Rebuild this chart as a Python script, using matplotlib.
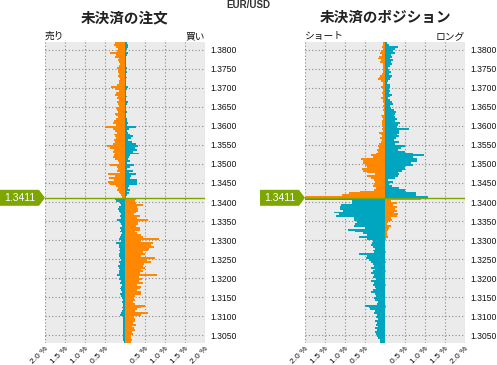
import numpy as np
import matplotlib
matplotlib.use('Agg')
import matplotlib.pyplot as plt
from matplotlib.patches import Polygon
from matplotlib import transforms

plt.rcParams['font.family'] = ['Noto Sans CJK JP', 'DejaVu Sans']

# price bins (bottom edge), top -> bottom, 0.0005 step
levels = np.round(np.linspace(1.3815, 1.3030, 158), 4)
step = 0.0005
price = 1.3411
split = 1.3410
price_ticks = [1.3050, 1.3100, 1.3150, 1.3200, 1.3250, 1.3300, 1.3350, 1.3400,
               1.3450, 1.3500, 1.3550, 1.3600, 1.3650, 1.3700, 1.3750, 1.3800]
pct_ticks = [-2.0, -1.5, -1.0, -0.5, 0.5, 1.0, 1.5, 2.0]

# open orders (%), left side / right side, listed top -> bottom
orders_left = [
    0.25, 0.28, 0.22, 0.18, 0.20, 0.37, 0.22, 0.24, 0.15, 0.18,
    0.16, 0.12, 0.15, 0.20, 0.18, 0.17, 0.14, 0.18, 0.15, 0.13,
    0.16, 0.14, 0.19, 0.34, 0.25, 0.15, 0.22, 0.24, 0.18, 0.20,
    0.16, 0.21, 0.18, 0.14, 0.22, 0.20, 0.18, 0.25, 0.23, 0.18,
    0.22, 0.27, 0.30, 0.22, 0.49, 0.30, 0.25, 0.20, 0.27, 0.25,
    0.22, 0.28, 0.25, 0.30, 0.44, 0.38, 0.28, 0.30, 0.25, 0.28,
    0.29, 0.24, 0.18, 0.15, 0.37, 0.20, 0.18, 0.20, 0.12, 0.42,
    0.25, 0.40, 0.28, 0.42, 0.38, 0.22, 0.18, 0.20, 0.14, 0.12,
    0.10, 0.08,
    0.24, 0.22, 0.12, 0.10, 0.14, 0.18, 0.16, 0.12,
    0.10, 0.12, 0.10, 0.19, 0.12, 0.10, 0.08, 0.12, 0.10, 0.12,
    0.08, 0.10, 0.12, 0.14, 0.10, 0.22, 0.16, 0.14, 0.12, 0.15,
    0.12, 0.14, 0.14, 0.12, 0.10, 0.14, 0.12, 0.18, 0.15, 0.12,
    0.14, 0.16, 0.20, 0.12, 0.14, 0.10, 0.12, 0.08, 0.10, 0.12,
    0.10, 0.08, 0.12, 0.10, 0.08, 0.06, 0.08, 0.06, 0.06, 0.08,
    0.06, 0.08, 0.10, 0.12, 0.06, 0.05, 0.04, 0.05, 0.04, 0.05,
    0.04, 0.05, 0.04, 0.05, 0.04, 0.04, 0.04, 0.02,
]
orders_right = [
    0.05, 0.08, 0.07, 0.04, 0.03, 0.08, 0.05, 0.03, 0.02, 0.03,
    0.02, 0.02, 0.03, 0.04, 0.03, 0.05, 0.03, 0.02, 0.04, 0.03,
    0.02, 0.03, 0.03, 0.08, 0.05, 0.03, 0.02, 0.03, 0.04, 0.02,
    0.03, 0.07, 0.04, 0.03, 0.02, 0.03, 0.04, 0.03, 0.02, 0.03,
    0.04, 0.06, 0.08, 0.05, 0.27, 0.10, 0.04, 0.08, 0.12, 0.19,
    0.14, 0.08, 0.18, 0.28, 0.32, 0.25, 0.30, 0.20, 0.36, 0.12,
    0.10, 0.08, 0.12, 0.05, 0.22, 0.12, 0.05, 0.20, 0.10, 0.28,
    0.16, 0.12, 0.31, 0.31, 0.31, 0.10, 0.08, 0.12, 0.05, 0.10,
    0.05, 0.03,
    0.27, 0.26, 0.28, 0.46, 0.30, 0.33, 0.32, 0.28,
    0.22, 0.37, 0.30, 0.57, 0.33, 0.32, 0.28, 0.38, 0.37, 0.25,
    0.30, 0.40, 0.45, 0.86, 0.40, 0.71, 0.65, 0.73, 0.60, 0.58,
    0.45, 0.50, 0.40, 0.76, 0.55, 0.65, 0.48, 0.45, 0.50, 0.40,
    0.46, 0.38, 0.79, 0.35, 0.42, 0.36, 0.44, 0.30, 0.40, 0.38,
    0.30, 0.40, 0.39, 0.26, 0.22, 0.24, 0.20, 0.26, 0.51, 0.40,
    0.30, 0.25, 0.58, 0.40, 0.22, 0.26, 0.25, 0.20, 0.27, 0.18,
    0.22, 0.25, 0.18, 0.20, 0.15, 0.16, 0.17, 0.15,
]

# open positions (%), left side / right side, listed top -> bottom
positions_left = [
    0.04, 0.06, 0.08, 0.05, 0.10, 0.12, 0.08, 0.14, 0.17, 0.10,
    0.12, 0.06, 0.05, 0.04, 0.06, 0.05, 0.08, 0.12, 0.15, 0.17,
    0.10, 0.05, 0.04, 0.10, 0.06, 0.04, 0.08, 0.05, 0.04, 0.10,
    0.06, 0.04, 0.03, 0.04, 0.03, 0.04, 0.03, 0.03, 0.10, 0.08,
    0.06, 0.08, 0.08, 0.08, 0.06, 0.08, 0.06, 0.16, 0.10, 0.08,
    0.12, 0.08, 0.10, 0.16, 0.18, 0.14, 0.20, 0.18, 0.22, 0.34,
    0.30, 0.59, 0.55, 0.54, 0.50, 0.45, 0.57, 0.55, 0.45, 0.25,
    0.45, 0.35, 0.28, 0.25, 0.28, 0.30, 0.22, 0.28, 0.62, 0.90,
    1.07, 2.10,
    2.10, 0.83, 0.83, 1.10, 1.12, 1.12, 1.05, 1.27,
    1.15, 1.22, 0.78, 0.78, 0.70, 0.75, 0.77, 0.50, 0.92, 0.75,
    0.55, 0.45, 0.66, 0.45, 0.30, 0.32, 0.34, 0.30, 0.25, 0.30,
    0.28, 0.66, 0.45, 0.48, 0.40, 0.35, 0.30, 0.28, 0.35, 0.25,
    0.30, 0.35, 0.28, 0.30, 0.22, 0.35, 0.28, 0.30, 0.25, 0.22,
    0.30, 0.35, 0.25, 0.22, 0.28, 0.25, 0.18, 0.20, 0.49, 0.40,
    0.38, 0.25, 0.28, 0.20, 0.22, 0.18, 0.25, 0.20, 0.22, 0.18,
    0.25, 0.20, 0.25, 0.22, 0.20, 0.18, 0.12, 0.12,
]
positions_right = [
    0.04, 0.10, 0.33, 0.25, 0.20, 0.24, 0.15, 0.18, 0.12, 0.20,
    0.15, 0.17, 0.12, 0.08, 0.10, 0.14, 0.10, 0.18, 0.16, 0.12,
    0.08, 0.06, 0.12, 0.13, 0.10, 0.12, 0.10, 0.18, 0.12, 0.08,
    0.12, 0.18, 0.20, 0.12, 0.14, 0.22, 0.28, 0.25, 0.22, 0.26,
    0.30, 0.24, 0.38, 0.32, 0.30, 0.60, 0.36, 0.34, 0.30, 0.34,
    0.28, 0.22, 0.36, 0.25, 0.50, 0.40, 0.32, 0.50, 0.70, 0.98,
    0.70, 0.80, 0.80, 0.66, 0.69, 0.50, 0.50, 0.42, 0.32, 0.34,
    0.32, 0.25, 0.08, 0.20, 0.10, 0.18, 0.35, 0.50, 0.52, 0.78,
    0.78, 1.08,
    0.90, 0.15, 0.30, 0.20, 0.30, 0.25, 0.30, 0.22,
    0.32, 0.30, 0.15, 0.18, 0.08, 0.06, 0.15, 0.10, 0.08, 0.06,
    0.04, 0.05, 0.08, 0.03, 0.00, 0.00, 0.00, 0.00, 0.00, 0.00,
    0.02, 0.00, 0.00, 0.00, 0.00, 0.02, 0.00, 0.00, 0.00, 0.00,
    0.02, 0.00, 0.00, 0.00, 0.00, 0.00, 0.00, 0.02, 0.00, 0.00,
    0.00, 0.00, 0.00, 0.00, 0.00, 0.00, 0.00, 0.00, 0.02, 0.02,
    0.00, 0.00, 0.00, 0.00, 0.00, 0.00, 0.00, 0.00, 0.00, 0.00,
    0.00, 0.00, 0.00, 0.00, 0.00, 0.00, 0.00, 0.00,
]

ORANGE = '#FF8800'
CYAN = '#00A5C0'
GREEN = '#7DA600'
BG = '#EBEBEB'

W, H = 497, 365
fig = plt.figure(figsize=(W / 100, H / 100), dpi=100)
fig.patch.set_facecolor('white')


def panel(left_px, title, lab_l, lab_r, vals_l, vals_r):
    ax = fig.add_axes([left_px / W, (H - 343) / H, 160 / W, 301 / H])
    ax.set_facecolor(BG)
    above = levels >= split
    ax.barh(levels, -np.array(vals_l), height=step, align='edge',
            color=np.where(above, ORANGE, CYAN), linewidth=0, zorder=2)
    ax.barh(levels, np.array(vals_r), height=step, align='edge',
            color=np.where(above, CYAN, ORANGE), linewidth=0, zorder=2)
    ax.set_xlim(-2, 2)
    ax.set_ylim(1.3029, 1.3821)

    ax.set_xticks(pct_ticks)
    ax.set_xticklabels([f'{abs(v):.1f} %' for v in pct_ticks], rotation=45,
                       ha='right', va='top', rotation_mode='anchor', fontsize=6)
    ax.set_yticks(price_ticks)
    ax.set_yticklabels([f'{p:.4f}' for p in price_ticks], fontsize=6.2)
    ax.yaxis.tick_right()
    ax.tick_params(axis='both', length=0,
                   labelfontfamily='Liberation Sans', colors='#111111')
    ax.tick_params(axis='y', pad=4)
    ax.tick_params(axis='x', pad=1.5)
    ax.grid(True, color='#8a8a8a', linestyle=(0, (1, 2)), linewidth=0.8)
    ax.set_axisbelow(True)
    for s in ax.spines.values():
        s.set_visible(False)

    # current price line and tag
    ax.axhline(price, color=GREEN, linewidth=1, zorder=3)
    tr = transforms.blended_transform_factory(ax.transAxes, ax.transData)
    hh = 0.0021
    tag = Polygon([(-45 / 160, price + hh), (-6 / 160, price + hh), (0, price),
                   (-6 / 160, price - hh), (-45 / 160, price - hh)],
                  closed=True, transform=tr, facecolor=GREEN, edgecolor='none',
                  clip_on=False, zorder=4)
    ax.add_patch(tag)
    ax.text(-25 / 160, price, f'{price:.4f}', transform=tr, ha='center',
            va='center', color='white', fontsize=7.5,
            family='Liberation Sans', zorder=5)

    cx = (left_px + 80) / W
    fig.text(cx, 1 - 17 / H, title, ha='center', va='center',
             fontsize=10.5, fontweight='bold', color='#222222')
    ax.text(0, 1 + 6 / 301, lab_l, transform=ax.transAxes, ha='left',
            va='center', fontsize=7, color='#111111')
    ax.text(1, 1 + 6 / 301, lab_r, transform=ax.transAxes, ha='right',
            va='center', fontsize=7, color='#111111')
    return ax


panel(45, '未決済の注文', '売り', '買い', orders_left, orders_right)
panel(305, '未決済のポジション', 'ショート', 'ロング', positions_left, positions_right)

fig.text(248 / W, 1 - 5 / H, 'EUR/USD', ha='center', va='center', fontsize=7,
         fontweight='bold', color='#333333', family='Liberation Sans')

fig.savefig('out.png', dpi=100)
